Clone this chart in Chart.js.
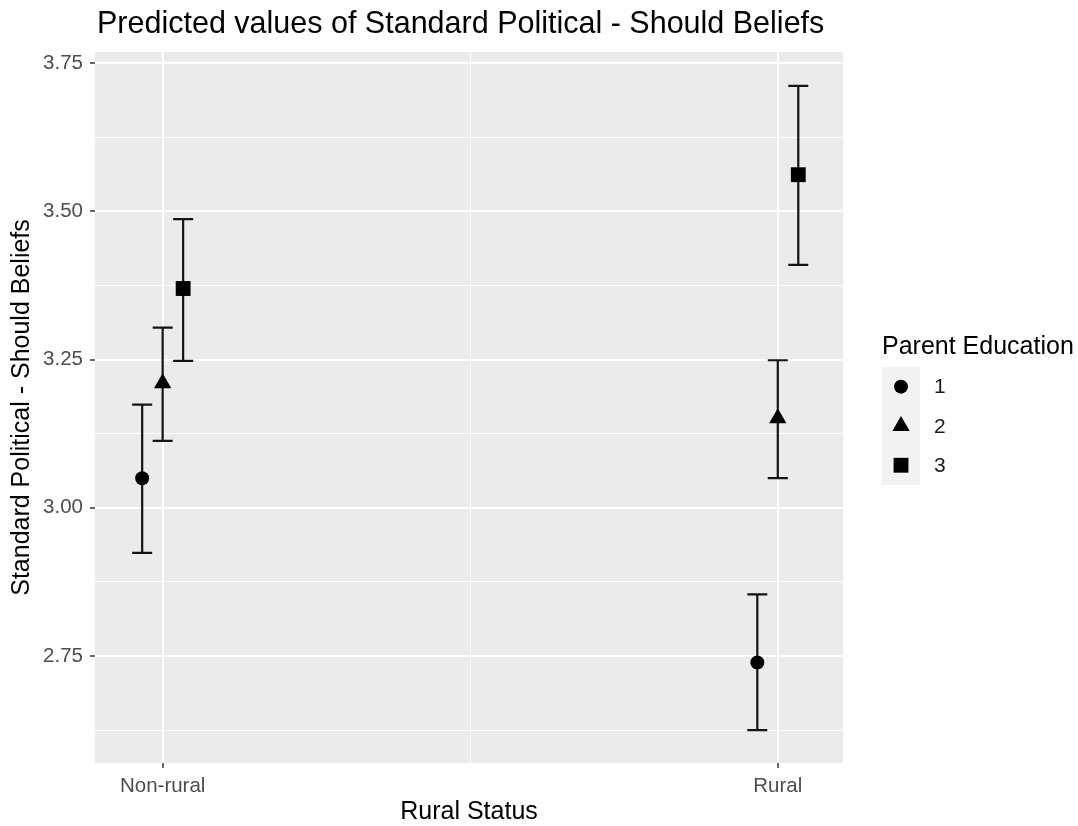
<!DOCTYPE html>
<html><head><meta charset="utf-8">
<script src="https://cdn.jsdelivr.net/npm/chart.js@4/dist/chart.umd.min.js"></script>
<style>html,body{margin:0;padding:0;background:#fff}#wrap{width:1078px;height:826px;position:relative}</style>
</head><body><div id="wrap"><canvas id="c" width="1078" height="826"></canvas></div>
<script>
// ---- data ----
const categories = ['Non-rural', 'Rural'];
const seriesNames = ['1', '2', '3'];
const estimates1 = [3.050, 2.739];
const lower1 = [2.924, 2.625];
const upper1 = [3.174, 2.854];
const estimates2 = [3.210, 3.151];
const lower2 = [3.113, 3.050];
const upper2 = [3.304, 3.249];
const estimates3 = [3.370, 3.562];
const lower3 = [3.248, 3.410];
const upper3 = [3.487, 3.712];
const yTicks = [2.75, 3.00, 3.25, 3.50, 3.75];
const titleText = 'Predicted values of Standard Political - Should Beliefs';
const xTitle = 'Rural Status';
const yTitle = 'Standard Political - Should Beliefs';
const legendTitle = 'Parent Education';

// ---- styling / layout ----
const FONT = "'Liberation Sans', Arial, sans-serif";
const pointStyles = ['circle', 'triangle', 'rect'];
const pointRadii = [7, 10, 10.5];
const dodge = 0.0333;
const Y_MIN = 2.5695, Y_MAX = 3.769;
const X_MIN = -0.110, X_MAX = 1.106;

const est = [estimates1, estimates2, estimates3];
const lo = [lower1, lower2, lower3];
const hi = [upper1, upper2, upper3];

const datasets = seriesNames.map((name, s) => ({
  label: name,
  data: categories.map((c, i) => ({ x: i + (s - 1) * dodge, y: est[s][i] })),
  errLo: lo[s], errHi: hi[s],
  pointStyle: pointStyles[s],
  pointRadius: pointRadii[s],
  pointHoverRadius: pointRadii[s],
  backgroundColor: '#000',
  borderColor: '#000',
  borderWidth: 0,
  showLine: false
}));

const minorY = [];
yTicks.forEach(v => { [v - 0.125, v + 0.125].forEach(m => { if (m > Y_MIN && m < Y_MAX && !minorY.includes(m) && !yTicks.includes(m)) minorY.push(m); }); });

const panelBg = {
  id: 'panelBg',
  beforeDraw(chart) {
    const { ctx, chartArea: a } = chart;
    ctx.save();
    ctx.fillStyle = '#ebebeb';
    ctx.fillRect(a.left, a.top, a.right - a.left, a.bottom - a.top);
    ctx.restore();
  }
};

const errorBars = {
  id: 'errorBars',
  beforeDatasetsDraw(chart) {
    const { ctx, scales: { x, y } } = chart;
    ctx.save();
    ctx.strokeStyle = '#141414';
    ctx.lineWidth = 2.2;
    chart.data.datasets.forEach(ds => {
      ds.data.forEach((p, i) => {
        const px = x.getPixelForValue(p.x);
        const yl = y.getPixelForValue(ds.errLo[i]);
        const yh = y.getPixelForValue(ds.errHi[i]);
        ctx.beginPath();
        ctx.moveTo(px, yl); ctx.lineTo(px, yh);
        ctx.moveTo(px - 10, yl); ctx.lineTo(px + 10, yl);
        ctx.moveTo(px - 10, yh); ctx.lineTo(px + 10, yh);
        ctx.stroke();
      });
    });
    ctx.restore();
  }
};

const texts = {
  id: 'texts',
  afterDraw(chart) {
    const { ctx, chartArea: a } = chart;
    ctx.save();
    // title
    ctx.fillStyle = '#000';
    ctx.font = '30.5px ' + FONT;
    ctx.textAlign = 'left';
    ctx.textBaseline = 'middle';
    ctx.fillText(titleText, a.left + 2, 25);
    // legend
    const lx = 882;
    ctx.font = '25px ' + FONT;
    ctx.fillStyle = '#000';
    ctx.fillText(legendTitle, lx, 347);
    const keyTop = 367, keyH = 39.3, keyW = 38;
    ctx.fillStyle = '#f2f2f2';
    ctx.fillRect(lx, keyTop, keyW, keyH * seriesNames.length);
    seriesNames.forEach((name, s) => {
      const cy = keyTop + keyH * (s + 0.5);
      const cx = lx + keyW / 2;
      ctx.fillStyle = '#000';
      if (Chart.helpers && Chart.helpers.drawPoint) {
        Chart.helpers.drawPoint(ctx, { pointStyle: pointStyles[s], radius: pointRadii[s], rotation: 0, borderWidth: 0 }, cx, cy);
      }
      ctx.fillStyle = '#1a1a1a';
      ctx.font = '21px ' + FONT;
      ctx.fillText(name, lx + 52, cy + 1);
    });
    ctx.restore();
  }
};

new Chart(document.getElementById('c'), {
  type: 'scatter',
  data: { datasets },
  plugins: [panelBg, errorBars, texts],
  options: {
    responsive: false,
    animation: false,
    events: [],
    layout: { padding: { top: 52, right: 235, left: 0, bottom: 0 } },
    plugins: { legend: { display: false }, tooltip: { enabled: false }, title: { display: false } },
    scales: {
      x: {
        type: 'linear', min: X_MIN, max: X_MAX,
        afterBuildTicks: s => { s.ticks = [{ value: 0, major: true }, { value: 0.5, major: false }, { value: 1, major: true }]; },
        afterFit: s => { s.height = 63; },
        ticks: {
          autoSkip: false, maxRotation: 0, padding: 6,
          color: '#4d4d4d', font: { family: FONT, size: 20.5 },
          callback: v => (v === 0 || v === 1) ? categories[v] : ''
        },
        grid: {
          color: '#ffffff',
          lineWidth: c => (c.tick && c.tick.major) ? 2 : 1,
          tickLength: 5,
          tickWidth: 1.5,
          tickColor: c => (c.tick && c.tick.major) ? '#333333' : 'rgba(0,0,0,0)'
        },
        border: { display: false },
        title: { display: true, text: xTitle, color: '#000', font: { family: FONT, size: 25, lineHeight: 1 }, padding: { top: 0, bottom: 1.5 } }
      },
      y: {
        type: 'linear', min: Y_MIN, max: Y_MAX,
        afterBuildTicks: s => {
          const all = yTicks.map(v => ({ value: v, major: true })).concat(minorY.map(v => ({ value: v, major: false })));
          all.sort((a, b) => a.value - b.value);
          s.ticks = all;
        },
        afterFit: s => { s.width = 95; },
        ticks: {
          autoSkip: false, padding: 7,
          color: '#4d4d4d', font: { family: FONT, size: 20.5 },
          callback: v => yTicks.includes(v) ? v.toFixed(2) : ''
        },
        grid: {
          color: '#ffffff',
          lineWidth: c => (c.tick && c.tick.major) ? 2 : 1,
          tickLength: 5,
          tickWidth: 1.5,
          tickColor: c => (c.tick && c.tick.major) ? '#333333' : 'rgba(0,0,0,0)'
        },
        border: { display: false },
        title: { display: true, text: yTitle, color: '#000', font: { family: FONT, size: 25, lineHeight: 1.2 }, padding: { top: 7, bottom: 0 } }
      }
    }
  }
});
</script>
</body></html>
